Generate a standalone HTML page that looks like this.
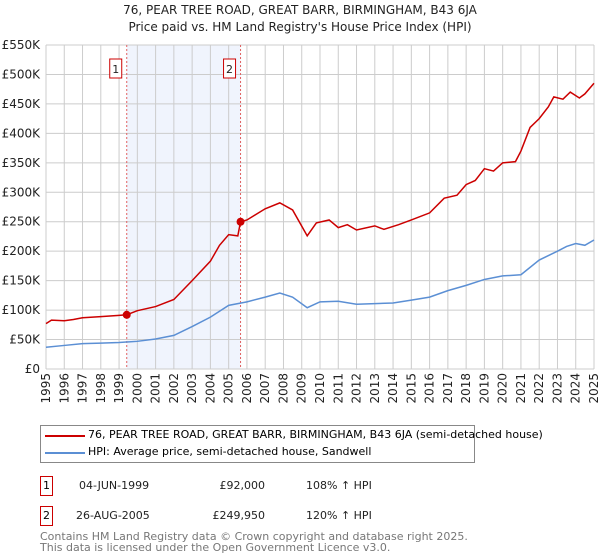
<!DOCTYPE html><html><head><meta charset="utf-8"><style>
body{margin:0;width:600px;height:560px;background:#fff;font-family:"DejaVu Sans","Liberation Sans",sans-serif;overflow:hidden;position:relative}
.t{position:absolute;left:0;width:600px;text-align:center;font-size:12px;color:#222}
.box{position:absolute;border:1px solid #c00;font-size:11px;width:11px;height:18px;text-align:center;line-height:18px}
.row{position:absolute;font-size:11px;color:#222}
</style></head><body>
<div class="t" style="top:3px">76, PEAR TREE ROAD, GREAT BARR, BIRMINGHAM, B43 6JA</div>
<div class="t" style="top:20px">Price paid vs. HM Land Registry's House Price Index (HPI)</div>
<svg id="c" width="600" height="420" style="position:absolute;left:0;top:0" font-family="DejaVu Sans, Liberation Sans, sans-serif"></svg>
<div style="position:absolute;left:40px;top:425px;width:433px;height:36px;border:1px solid #888">
<div style="position:absolute;left:4px;top:9px;width:40px;height:2px;background:#c00"></div>
<div style="position:absolute;left:47px;top:2px;font-size:11px;white-space:nowrap">76, PEAR TREE ROAD, GREAT BARR, BIRMINGHAM, B43 6JA (semi-detached house)</div>
<div style="position:absolute;left:4px;top:26px;width:40px;height:2px;background:#5b8fd4"></div>
<div style="position:absolute;left:47px;top:19px;font-size:11px;white-space:nowrap">HPI: Average price, semi-detached house, Sandwell</div></div>
<div class="box" style="left:40px;top:476px">1</div>
<div class="row" style="left:79px;top:479px">04-JUN-1999</div><div class="row" style="left:170px;top:479px;width:95px;text-align:right">£92,000</div><div class="row" style="left:306px;top:479px">108% ↑ HPI</div>
<div class="box" style="left:40px;top:506px">2</div>
<div class="row" style="left:76px;top:509px">26-AUG-2005</div><div class="row" style="left:170px;top:509px;width:95px;text-align:right">£249,950</div><div class="row" style="left:306px;top:509px">120% ↑ HPI</div>
<div style="position:absolute;left:40px;top:531px;font-size:11px;color:#777;line-height:11px">Contains HM Land Registry data © Crown copyright and database right 2025.<br>This data is licensed under the Open Government Licence v3.0.</div>
<script>
const hpiYears=[1995,1996,1997,1998,1999,2000,2001,2002,2003,2004,2005,2006,2007,2007.8,2008.5,2009.3,2010,2011,2012,2013,2014,2015,2016,2017,2018,2019,2020,2021,2022,2023,2023.5,2024,2024.5,2025];
const hpiValues=[37,40,43,44,45,47,51,57,72,88,108,114,122,129,122,104,114,115,110,111,112,117,122,133,142,152,158,160,185,200,208,213,210,219];
const propYears=[1995,1995.3,1996,1996.5,1997,1998,1999,1999.42,2000,2001,2002,2003,2004,2004.5,2005,2005.5,2005.65,2006,2007,2007.8,2008.5,2009.3,2009.8,2010.5,2011,2011.5,2012,2013,2013.5,2014.3,2015,2016,2016.8,2017.5,2018,2018.5,2019,2019.5,2020,2020.7,2021,2021.5,2022,2022.5,2022.8,2023.3,2023.7,2024.2,2024.5,2025];
const propValues=[77,83,82,84,87,89,91,92,99,106,118,150,183,210,228,226,250,253,272,282,270,226,248,253,240,245,236,243,237,245,253,265,290,295,313,320,340,336,350,352,370,410,425,445,462,458,470,460,467,485];
const saleYears=[1999.42,2005.65];
const saleValues=[92,249.95];
const yTicks=[0,50,100,150,200,250,300,350,400,450,500,550];
const xTicks=[1995,1996,1997,1998,1999,2000,2001,2002,2003,2004,2005,2006,2007,2008,2009,2010,2011,2012,2013,2014,2015,2016,2017,2018,2019,2020,2021,2022,2023,2024,2025];
const svg=document.getElementById('c');const NS='http://www.w3.org/2000/svg';
const X=y=>46+(y-1995)/30*548, Y=v=>369-v/550*324;
function el(t,a){const e=document.createElementNS(NS,t);for(const k in a)e.setAttribute(k,a[k]);svg.appendChild(e);return e;}
let r=el('rect',{x:X(saleYears[0]),y:45,width:X(saleYears[1])-X(saleYears[0]),height:324,fill:'#f0f4fd'});


yTicks.forEach(v=>{const l=el('line',{x1:46,x2:594,y1:Y(v),y2:Y(v),stroke:'#ccc'});


const t=el('text',{x:40,y:Y(v)+4,'text-anchor':'end','font-size':12,fill:'#222'});t.textContent=v==0?'£0':'£'+v+'K';

});
xTicks.forEach(y=>{const l=el('line',{x1:X(y),x2:X(y),y1:45,y2:369,stroke:'#ccc'});


const t=el('text',{transform:`translate(${X(y)+4},${373}) rotate(-90)`,'text-anchor':'end','font-size':12,fill:'#222'});t.textContent=y;

});
saleYears.forEach((y,i)=>{const l=el('line',{x1:X(y),x2:X(y),y1:45,y2:369,stroke:'#e06060','stroke-dasharray':'2,2'});


const b=el('rect',{x:X(y)-17,y:59,width:12,height:19,fill:'#fff',stroke:'#c00'});


const t=el('text',{x:X(y)-11,y:73,'text-anchor':'middle','font-size':11,fill:'#222'});t.textContent=i+1;

});
const h=el('polyline',{points:hpiYears.map((y,i)=>X(y)+','+Y(hpiValues[i])).join(' '),fill:'none',stroke:'#5b8fd4','stroke-width':1.5});


const p=el('polyline',{points:propYears.map((y,i)=>X(y)+','+Y(propValues[i])).join(' '),fill:'none',stroke:'#c00','stroke-width':1.5});


saleYears.forEach((y,i)=>{const c=el('circle',{cx:X(y),cy:Y(saleValues[i]),r:4,fill:'#c00'});

});
</script></body></html>
